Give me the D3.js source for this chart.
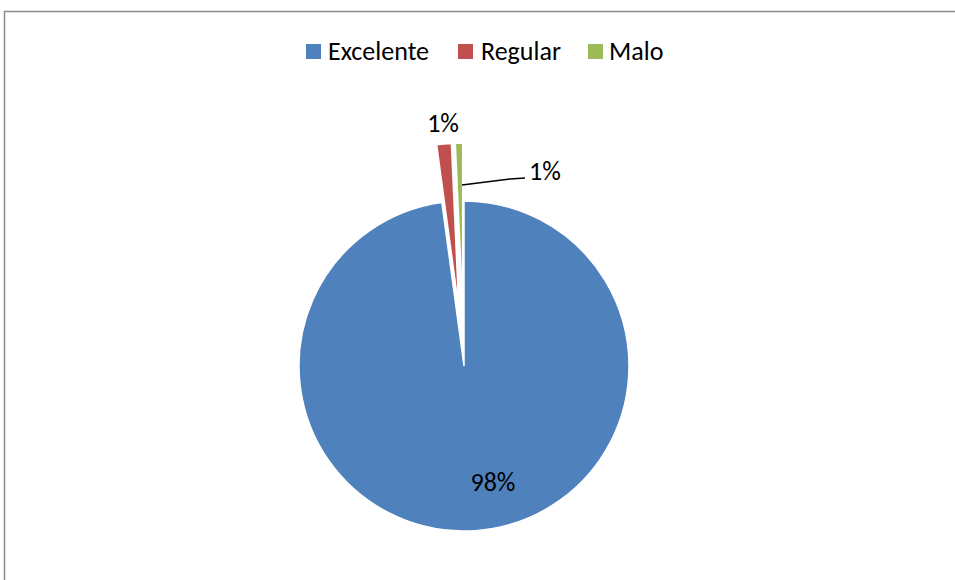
<!DOCTYPE html>
<html><head><meta charset="utf-8">
<script src="https://cdn.jsdelivr.net/npm/d3@7"></script>
<style>html,body{margin:0;padding:0;background:#fff}</style>
</head><body>
<svg id="chart" width="955" height="580"></svg>
<script>
const categories = ["Excelente", "Regular", "Malo"];
const values = [137, 2, 1];
const labels = ["98%", "1%", "1%"];
const colors = ["#4F81BD", "#C0504D", "#9BBB59"];

const svg = d3.select("#chart");
const FONT = "Carlito, Calibri, 'Open Sans', sans-serif";

// chart area border
svg.append("rect").attr("x", 4.5).attr("y", 11.5).attr("width", 970).attr("height", 600)
  .attr("fill", "#fff").attr("stroke", "#8c8c8c").attr("stroke-width", 1.5);

const cx = 464, cy = 366, r = 165, explode = 58;
const pie = d3.pie().sort(null).value(d => d)(values);
const arc = d3.arc().innerRadius(0).outerRadius(r);

const g = svg.append("g").attr("transform", `translate(${cx},${cy})`);
pie.forEach((p, i) => {
  const mid = (p.startAngle + p.endAngle) / 2;
  const d = i === 0 ? 0 : explode;
  const dx = d * Math.sin(mid), dy = -d * Math.cos(mid);
  g.append("path").attr("d", arc(p))
    .attr("transform", `translate(${dx},${dy})`)
    .attr("fill", colors[i]).attr("stroke", "#fff").attr("stroke-width", 1.5);
});

const fs = 26;
// Excelente label inside
g.append("text").attr("x", 29).attr("y", 125).attr("text-anchor", "middle")
  .attr("font-family", FONT).attr("font-size", fs).attr("fill", "#000").text(labels[0]);
// Regular label above
g.append("text").attr("x", -21).attr("y", -234).attr("text-anchor", "middle")
  .attr("font-family", FONT).attr("font-size", fs).attr("fill", "#000").text(labels[1]);
// Malo label with leader
g.append("path").attr("d", "M-2,-181 L46,-187 L61,-188")
  .attr("fill", "none").attr("stroke", "#000").attr("stroke-width", 1.5);
g.append("text").attr("x", 65).attr("y", -186).attr("font-family", FONT)
  .attr("font-size", fs).attr("fill", "#000").text(labels[2]);

// legend
const legendX = [306, 458, 588];
const textX = [328, 481, 609];
const leg = svg.append("g");
categories.forEach((c, i) => {
  leg.append("rect").attr("x", legendX[i]).attr("y", 44).attr("width", 15).attr("height", 15).attr("fill", colors[i]);
  leg.append("text").attr("x", textX[i]).attr("y", 60)
    .attr("font-family", FONT).attr("font-size", fs).attr("fill", "#000").text(c);
});
</script>
</body></html>
